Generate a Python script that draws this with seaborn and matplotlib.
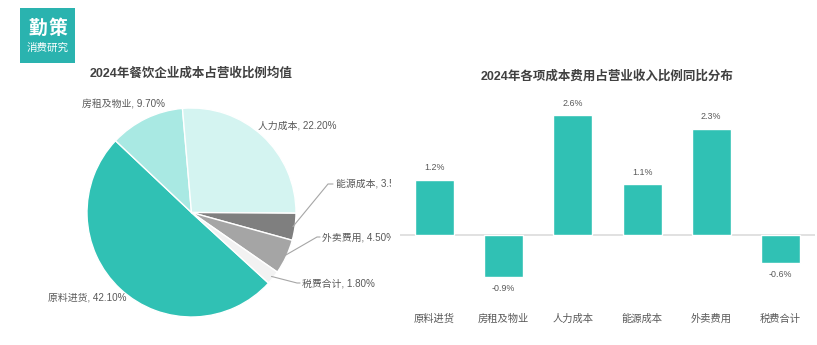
import matplotlib
matplotlib.use('Agg')
import matplotlib.pyplot as plt
from matplotlib.patches import Rectangle
import seaborn as sns
import numpy as np
import pandas as pd

# ---------------- data ----------------
pie_labels = ['原料进货', '房租及物业', '人力成本', '能源成本', '外卖费用', '税费合计']
pie_values = [42.10, 9.70, 22.20, 3.50, 4.50, 1.80]

bar_categories = ['原料进货', '房租及物业', '人力成本', '能源成本', '外卖费用', '税费合计']
bar_values = [1.2, -0.9, 2.6, 1.1, 2.3, -0.6]

pie_title = '2024年餐饮企业成本占营收比例均值'
bar_title = '2024年各项成本费用占营业收入比例同比分布'
logo_big = '勤策'
logo_small = '消费研究'

# ---------------- style ----------------
pie_colors = ['#30C1B4', '#A9E9E3', '#D4F4F1', '#7F7F7F', '#A5A5A5', '#F2F2F2']
bar_color = '#30C1B4'
logo_color = '#2AB3AF'
text_gray = '#595959'
title_color = '#404040'
line_gray = '#A6A6A6'

sns.set_theme(style='white')
plt.rcParams['font.family'] = ['Liberation Sans', 'Noto Sans CJK SC', 'DejaVu Sans']

W, H = 817, 345
fig = plt.figure(figsize=(W / 100, H / 100), dpi=100)
fig.patch.set_facecolor('white')


def px_axes(x0, y0, x1, y1):
    return fig.add_axes([x0 / W, 1 - y1 / H, (x1 - x0) / W, (y1 - y0) / H])


# ---------------- logo ----------------
fig.add_artist(Rectangle((20 / W, 1 - 63 / H), 55 / W, 55 / H, transform=fig.transFigure,
                         facecolor=logo_color, edgecolor='none'))
for j, ch in enumerate(logo_big):
    fig.text((37.5 + 20 * j) / W, 1 - 29 / H, ch, color='white', fontsize=13.5,
             fontweight='bold', ha='center', va='center')
fig.text(47.5 / W, 1 - 47.5 / H, logo_small, color='white', fontsize=7.6,
         ha='center', va='center')

# ---------------- pie ----------------
cx, cy, R = 191.5, 212.5, 104.5
ax1 = px_axes(0, 85, 391, 345)
start = -42.5
ax1.pie(pie_values, colors=pie_colors, startangle=start, counterclock=False,
        wedgeprops=dict(edgecolor='white', linewidth=1.0))
ax1.set_aspect('auto')
ax1.set_xlim((0 - cx) / R, (391 - cx) / R)
ax1.set_ylim(-(345 - cy) / R, (cy - 85) / R)


def dxp(xp):
    return (xp - cx) / R


def dyp(yp):
    return (cy - yp) / R


total = sum(pie_values)
mids = []
a = start
for v in pie_values:
    span = v / total * 360
    mids.append(a - span / 2)
    a -= span

label_fs = 7.1
# label anchor positions (pixels, left edge / vertical center)
label_pos = [(48, 298), (82, 104), (258, 126), (336, 184), (322, 237), (302, 283)]
# leader elbows for small slices (pixels)
elbows = {3: ((328, 184), (333, 184)), 4: ((317, 237), (320, 237)), 5: ((297, 283), (300, 283))}

for i, (name, v) in enumerate(zip(pie_labels, pie_values)):
    lx, ly = label_pos[i]
    ax1.text(dxp(lx), dyp(ly), f'{name}, {v:.2f}%', fontsize=label_fs, color=text_gray,
             ha='left', va='center', clip_on=True)
    if i in elbows:
        m = np.deg2rad(mids[i])
        sx, sy = 0.98 * np.cos(m), 0.98 * np.sin(m)
        (ex, ey), (fx, fy) = elbows[i]
        ax1.plot([sx, dxp(ex), dxp(fx)], [sy, dyp(ey), dyp(fy)], color=line_gray, lw=0.8,
                 clip_on=False)

fig.text(191 / W, 1 - 73 / H, pie_title, fontsize=9, fontweight='bold', color=title_color,
         ha='center', va='center')

# ---------------- bars ----------------
zero_y = 235
scale = 46.15
ax2 = px_axes(400, 100, 815, 308)
df = pd.DataFrame({'cat': bar_categories, 'val': bar_values})
sns.barplot(data=df, x='cat', y='val', order=bar_categories, color=bar_color,
            saturation=1, width=0.565, ax=ax2, errorbar=None)
ax2.set_xlim(-0.5, len(bar_categories) - 0.5)
ax2.set_ylim(-(308 - zero_y) / scale, (zero_y - 100) / scale)
ax2.axhline(0, color='#D9D9D9', lw=1.1, zorder=0)
for s in ax2.spines.values():
    s.set_visible(False)
ax2.set_yticks([])
ax2.set_xlabel('')
ax2.set_ylabel('')
ax2.tick_params(axis='x', length=0, pad=4, labelsize=7.4, labelcolor=text_gray)

for i, v in enumerate(bar_values):
    off = 8.6 if v >= 0 else -8.6
    ax2.annotate(f'{v:.1f}%', xy=(i, v), xytext=(0, off), textcoords='offset points',
                 ha='center', va='center', fontsize=6.4, color=text_gray)

fig.text(607 / W, 1 - 76 / H, bar_title, fontsize=9, fontweight='bold', color=title_color,
         ha='center', va='center')

fig.savefig('out.png', dpi=100, facecolor='white')
